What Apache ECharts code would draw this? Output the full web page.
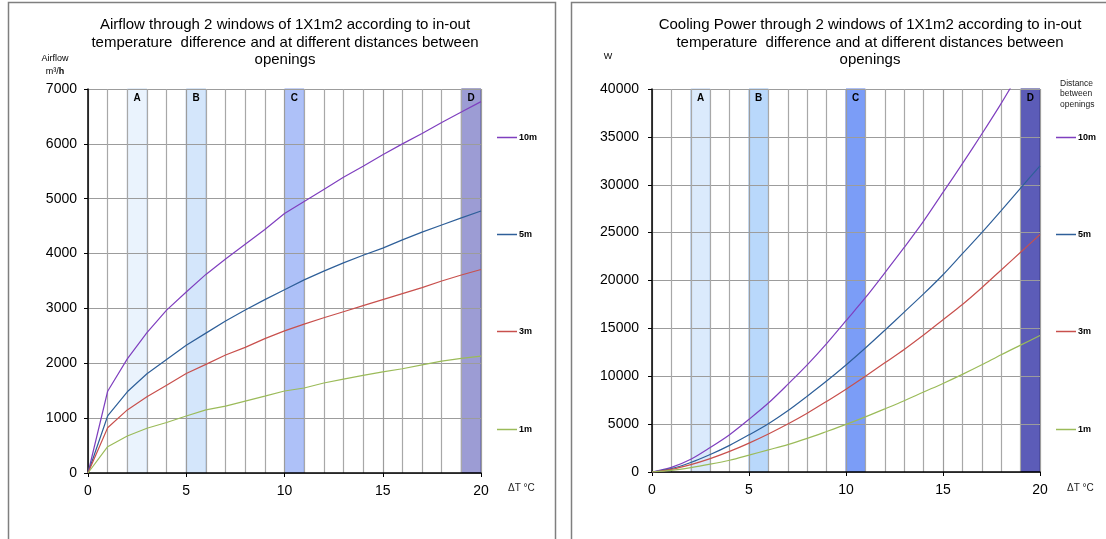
<!DOCTYPE html>
<html>
<head>
<meta charset="utf-8">
<script src="https://cdn.jsdelivr.net/npm/echarts@6/dist/echarts.min.js"></script>
<style>
  html, body { margin: 0; padding: 0; background: #fff; }
  #chart { width: 1106px; height: 539px; }
</style>
</head>
<body>
<div id="chart"></div>
<script>
// Temperature difference in/out (°C)
const deltaT = [0, 1, 2, 3, 4, 5, 6, 7, 8, 9, 10, 11, 12, 13, 14, 15, 16, 17, 18, 19, 20];

// Distance between openings
const seriesNames = ['10m', '5m', '3m', '1m'];

// Airflow (m³/h)
const airflow10m = [0, 1490, 2080, 2560, 2970, 3300, 3620, 3900, 4170, 4440, 4730, 4950, 5170, 5390, 5590, 5800, 6000, 6190, 6390, 6580, 6770];
const airflow5m  = [0, 1040, 1480, 1810, 2070, 2330, 2550, 2770, 2970, 3160, 3340, 3520, 3680, 3830, 3970, 4100, 4250, 4390, 4520, 4650, 4775];
const airflow3m  = [0, 825, 1150, 1390, 1600, 1815, 1980, 2150, 2290, 2450, 2590, 2715, 2830, 2940, 3050, 3160, 3270, 3380, 3500, 3610, 3710];
const airflow1m  = [0, 480, 675, 815, 920, 1040, 1150, 1220, 1310, 1400, 1495, 1550, 1640, 1710, 1780, 1845, 1900, 1970, 2040, 2090, 2130];

// Cooling power (W)
const cooling10m = [0, 480, 1330, 2560, 3900, 5500, 7200, 9150, 11180, 13400, 15800, 18200, 20800, 23450, 26200, 29200, 32200, 35300, 38500, 41900, 45300];
const cooling5m  = [0, 350, 990, 1820, 2780, 3880, 5050, 6400, 7920, 9500, 11180, 12950, 14800, 16700, 18600, 20600, 22800, 25000, 27300, 29650, 31980];
const cooling3m  = [0, 275, 770, 1400, 2150, 3020, 3975, 5010, 6135, 7370, 8650, 10000, 11400, 12800, 14300, 15900, 17500, 19250, 21100, 22950, 24800];
const cooling1m  = [0, 160, 450, 815, 1230, 1760, 2310, 2860, 3510, 4230, 4970, 5760, 6590, 7440, 8350, 9250, 10200, 11200, 12250, 13250, 14250];

// Highlighted temperature ranges
const bandRanges = [[2, 3], [5, 6], [10, 11], [19, 20]];
const bandLabels = ['A', 'B', 'C', 'D'];

// Axis limits / tick steps
const airflowMax = 7000, airflowStep = 1000;
const coolingMax = 40000, coolingStep = 5000;
const xMax = 20, xStep = 5;

const FONT = "'Liberation Sans', Arial, sans-serif";
const lineColors = ['#7f3fbf', '#2e5f99', '#c8504d', '#9bbb59'];
const airflowBandFill = ['#eaf3fd', '#d4e6fb', '#aec1f8', '#9c9cd4'];
const airflowBandEdge = ['#c9dcf2', '#aecbec', '#8aa3ee', '#50509e'];
const coolingBandFill = ['#dbeafc', '#b9d8fb', '#7b9df7', '#5c5cb8'];
const coolingBandEdge = ['#b6cff0', '#92bdee', '#5a7fec', '#2a2a8c'];

const airflowData = [airflow10m, airflow5m, airflow3m, airflow1m];
const coolingData = [cooling10m, cooling5m, cooling3m, cooling1m];

const pairs = vals => deltaT.map((t, i) => [t, vals[i]]);

function bandSeries(idx, fills, edges) {
  return {
    type: 'line', name: 'bands', xAxisIndex: idx, yAxisIndex: idx,
    data: [[0, 0]], symbol: 'none', lineStyle: { width: 0 }, silent: true, z: 1,
    markArea: {
      silent: true,
      label: { show: true, position: 'insideTop', distance: 5, fontSize: 10, fontWeight: 'bold', color: '#000', fontFamily: FONT },
      data: bandRanges.map((r, i) => [
        { name: bandLabels[i], xAxis: r[0], itemStyle: { color: fills[i], borderColor: edges[i], borderWidth: 1 } },
        { xAxis: r[1] }
      ])
    }
  };
}

function dataSeries(idx, values, smooth) {
  return values.map((vals, i) => ({
    type: 'line', name: seriesNames[i], xAxisIndex: idx, yAxisIndex: idx,
    data: pairs(vals), symbol: 'none', smooth: smooth, clip: true, z: 3,
    lineStyle: { color: lineColors[i], width: 1.2 }, itemStyle: { color: lineColors[i] }
  }));
}

function xAxisDef(idx) {
  return {
    type: 'value', gridIndex: idx, min: 0, max: xMax, interval: xStep, z: 2,
    axisLine: { show: true, onZero: false, lineStyle: { color: '#000', width: 1.5 } },
    axisTick: { show: true, length: 4, lineStyle: { color: '#000' } },
    axisLabel: { fontSize: 14, color: '#000', margin: 11, fontFamily: FONT, formatter: v => String(v) },
    splitLine: { show: true, lineStyle: { color: '#9c9c9c', width: 1.2 } },
    minorTick: { show: false, splitNumber: 5 },
    minorSplitLine: { show: true, lineStyle: { color: '#a8a8a8', width: 1.2 } }
  };
}

function yAxisDef(idx, max, step, margin) {
  return {
    type: 'value', gridIndex: idx, min: 0, max: max, interval: step, z: 2,
    axisLine: { show: true, lineStyle: { color: '#000', width: 1.5 } },
    axisTick: { show: true, length: 4, lineStyle: { color: '#000' } },
    axisLabel: { fontSize: 14, color: '#000', margin: margin, fontFamily: FONT, formatter: v => String(v) },
    splitLine: { show: true, lineStyle: { color: '#9c9c9c', width: 1.2 } }
  };
}

const legendCentersY = [139, 236, 333, 431];
function legends(left) {
  return seriesNames.map((n, i) => ({
    data: [n], orient: 'vertical', left: left, top: legendCentersY[i] - 6, padding: 0,
    icon: 'rect', itemWidth: 20, itemHeight: 1.5, itemGap: 0, selectedMode: false,
    textStyle: { fontSize: 9, fontWeight: 'bold', color: '#000', fontFamily: FONT, padding: [0, 0, 0, -3] }
  }));
}

const chart = echarts.init(document.getElementById('chart'), null, { renderer: 'canvas' });

chart.setOption({
  animation: false,
  backgroundColor: '#fff',
  textStyle: { fontFamily: FONT },
  grid: [
    { left: 88, top: 89, width: 393, height: 384 },
    { left: 652, top: 89, width: 388, height: 383 }
  ],
  xAxis: [xAxisDef(0), xAxisDef(1)],
  yAxis: [yAxisDef(0, airflowMax, airflowStep, 11), yAxisDef(1, coolingMax, coolingStep, 13)],
  legend: legends(497).concat(legends(1056)),
  series: [
    bandSeries(0, airflowBandFill, airflowBandEdge),
    bandSeries(1, coolingBandFill, coolingBandEdge)
  ].concat(dataSeries(0, airflowData, false), dataSeries(1, coolingData, 0.3)),
  graphic: [
    { type: 'rect', z: -1, silent: true, shape: { x: 8.5, y: 2.5, width: 547, height: 600 },
      style: { fill: 'none', stroke: '#7f7f7f', lineWidth: 1.5 } },
    { type: 'rect', z: -1, silent: true, shape: { x: 571.5, y: 2.5, width: 600, height: 600 },
      style: { fill: 'none', stroke: '#7f7f7f', lineWidth: 1.5 } },
    { type: 'text', x: 285, y: 16.5, silent: true,
      style: { text: 'Airflow through 2 windows of 1X1m2 according to in-out\ntemperature  difference and at different distances between\nopenings',
        fontSize: 15, lineHeight: 17.5, fill: '#000', align: 'center', verticalAlign: 'top', fontFamily: FONT } },
    { type: 'text', x: 870, y: 16.5, silent: true,
      style: { text: 'Cooling Power through 2 windows of 1X1m2 according to in-out\ntemperature  difference and at different distances between\nopenings',
        fontSize: 15, lineHeight: 17.5, fill: '#000', align: 'center', verticalAlign: 'top', fontFamily: FONT } },
    { type: 'text', x: 55, y: 59, silent: true,
      style: { text: 'Airflow', fontSize: 9, fill: '#000', align: 'center', verticalAlign: 'middle', fontFamily: FONT } },
    { type: 'text', x: 55, y: 72, silent: true,
      style: { text: '{n|m³/}{b|h}', align: 'center', verticalAlign: 'middle', fontFamily: FONT,
        rich: { n: { fontSize: 9, fill: '#000' }, b: { fontSize: 9, fontWeight: 'bold', fill: '#000' } } } },
    { type: 'text', x: 608, y: 57, silent: true,
      style: { text: 'W', fontSize: 9, fill: '#000', align: 'center', verticalAlign: 'middle', fontFamily: FONT } },
    { type: 'text', x: 1060, y: 78, silent: true,
      style: { text: 'Distance\nbetween\nopenings', fontSize: 8.5, lineHeight: 10.5, fill: '#222', align: 'left', verticalAlign: 'top', fontFamily: FONT } },
    { type: 'text', x: 508, y: 488, silent: true,
      style: { text: 'ΔT °C', fontSize: 10, fill: '#222', align: 'left', verticalAlign: 'middle', fontFamily: FONT } },
    { type: 'text', x: 1067, y: 488, silent: true,
      style: { text: 'ΔT °C', fontSize: 10, fill: '#222', align: 'left', verticalAlign: 'middle', fontFamily: FONT } }
  ]
});
</script>
</body>
</html>
